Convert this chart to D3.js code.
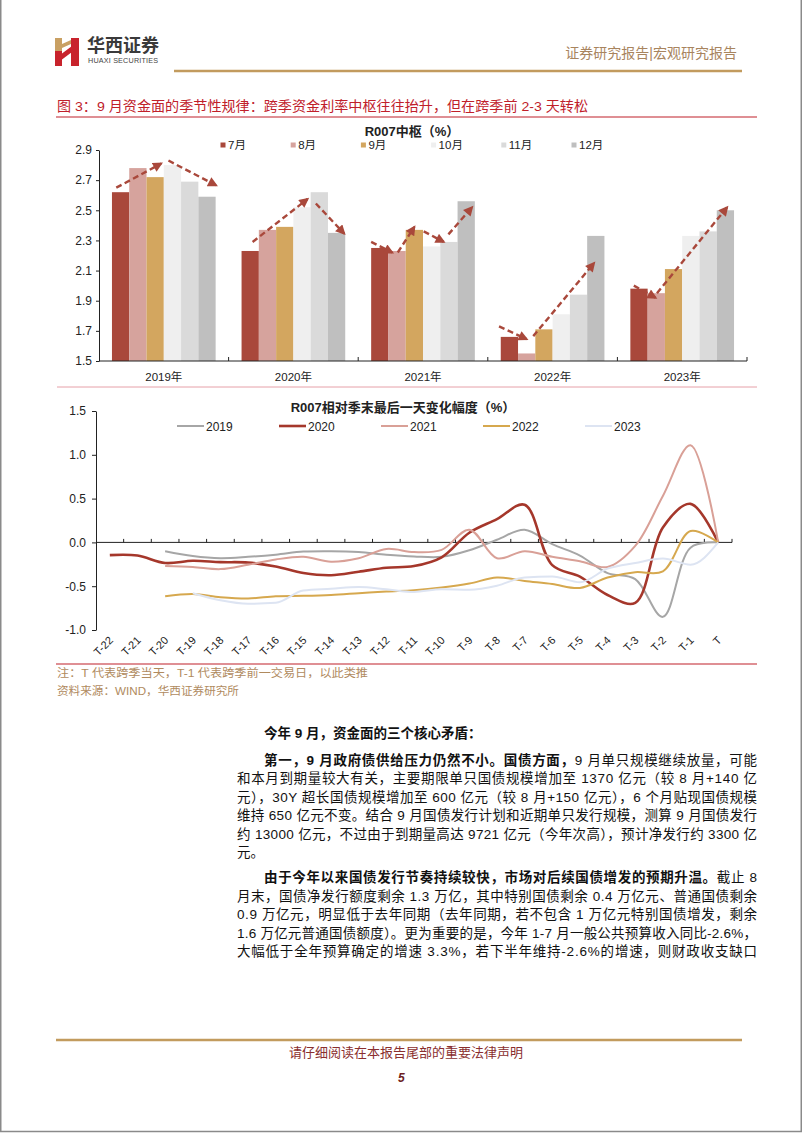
<!DOCTYPE html>
<html><head><meta charset="utf-8">
<script src="https://cdn.jsdelivr.net/npm/d3@7/dist/d3.min.js"></script>
<style>
html,body{margin:0;padding:0;background:#fff;}
svg{display:block;}
text{font-family:"Liberation Sans","Noto Sans CJK SC",sans-serif;}
</style></head>
<body>
<script>
// ---------------- DATA ----------------
const years = ["2019年","2020年","2021年","2022年","2023年"];
const months = ["7月","8月","9月","10月","11月","12月"];
const jul = [2.62, 2.23, 2.25, 1.66, 1.98];
const aug = [2.78, 2.37, 2.23, 1.55, 1.95];
const sep = [2.72, 2.39, 2.37, 1.71, 2.11];
const oct = [2.80, 2.52, 2.26, 1.81, 2.33];
const nov = [2.69, 2.62, 2.29, 1.94, 2.36];
const dec = [2.59, 2.35, 2.56, 2.33, 2.50];
const topTicks = [1.5, 1.7, 1.9, 2.1, 2.3, 2.5, 2.7, 2.9];
// annotation arrows in data units: [year index, from month-position, from value, to month-position, to value]
const arrows = [
  [0, -0.25, 2.65, 2.35, 2.81], [0, 2.77, 2.83, 5.53, 2.665],
  [1, 0.14, 2.29, 3.32, 2.575], [1, 3.8, 2.545, 5.44, 2.345],
  [2, -0.5, 2.29, 0.72, 2.22], [2, 1.04, 2.22, 2.0, 2.39],
  [2, 2.54, 2.36, 3.7, 2.29], [2, 3.97, 2.34, 5.34, 2.52],
  [3, -0.6, 1.73, 1.0, 1.645], [3, 1.38, 1.665, 4.9, 2.15],
  [4, -0.3, 2.0, 0.96, 1.92], [4, 1.04, 1.95, 5.1, 2.52]
];

const tLabels = ["T-22","T-21","T-20","T-19","T-18","T-17","T-16","T-15","T-14","T-13","T-12","T-11","T-10","T-9","T-8","T-7","T-6","T-5","T-4","T-3","T-2","T-1","T"];
const seriesNames = ["2019","2020","2021","2022","2023"];
const s2019 = [null,null,-0.10,-0.155,-0.18,-0.165,-0.14,-0.105,-0.10,-0.11,-0.14,-0.16,-0.165,-0.09,0.03,0.145,-0.02,-0.15,-0.35,-0.42,-0.85,-0.06,0];
const s2020 = [-0.145,-0.15,-0.235,-0.21,-0.225,-0.23,-0.275,-0.35,-0.375,-0.335,-0.29,-0.27,-0.17,0.11,0.265,0.43,-0.26,-0.39,-0.60,-0.69,0.17,0.44,0];
const s2021 = [null,null,-0.27,-0.28,-0.305,-0.255,-0.195,-0.165,-0.22,-0.18,-0.075,-0.11,-0.085,0.145,-0.18,-0.10,-0.165,-0.215,-0.28,-0.04,0.53,1.11,0];
const s2022 = [null,null,-0.615,-0.59,-0.625,-0.64,-0.615,-0.61,-0.60,-0.58,-0.56,-0.545,-0.515,-0.47,-0.40,-0.44,-0.475,-0.52,-0.40,-0.34,-0.33,0.13,0];
const s2023 = [null,null,null,-0.58,-0.66,-0.70,-0.69,-0.55,-0.53,-0.51,-0.535,-0.565,-0.535,-0.54,-0.495,-0.40,-0.39,-0.455,-0.30,-0.235,-0.185,-0.255,0];
const botTicks = [-1.0, -0.5, 0.0, 0.5, 1.0, 1.5];

// ---------------- SETUP ----------------
const W = 802, H = 1133;
const svg = d3.select("body").append("svg").attr("width", W).attr("height", H);
svg.append("rect").attr("x",0).attr("y",0).attr("width",W).attr("height",H).attr("fill","#fff");
svg.append("rect").attr("x",0.75).attr("y",-2).attr("width",W-1.5).attr("height",H+0.5)
  .attr("fill","none").attr("stroke","#8a8a8a").attr("stroke-width",1.5);

// ---------------- HEADER ----------------
const logo = svg.append("g");
logo.append("rect").attr("x",55).attr("y",38).attr("width",7).attr("height",13).attr("fill","#C9A063");
logo.append("rect").attr("x",55).attr("y",51).attr("width",7).attr("height",15).attr("fill","#C8232C");
logo.append("path").attr("d","M71,38 L79,38 L79,66 L71,66 Z").attr("fill","#C8232C");
logo.append("path").attr("d","M60,55 L72,46 L72,52 L60,61 Z").attr("fill","#C8232C");
logo.append("path").attr("d","M62,44 L71,40 L71,44 L62,48 Z").attr("fill","#C9A063");
svg.append("text").attr("x",87).attr("y",52).attr("font-size",18).attr("font-weight",700)
  .attr("fill","#3a3a3a").attr("font-family","Noto Sans CJK SC").text("华西证券");
svg.append("text").attr("x",88).attr("y",63).attr("font-size",7.2).attr("fill","#444")
  .attr("textLength",70).text("HUAXI SECURITIES");
svg.append("text").attr("x",737).attr("y",58).attr("text-anchor","end").attr("font-size",14)
  .attr("fill","#A8845E").attr("font-family","Noto Sans CJK SC").text("证券研究报告|宏观研究报告");
svg.append("line").attr("x1",174).attr("x2",742).attr("y1",71).attr("y2",71)
  .attr("stroke","#C29B5E").attr("stroke-width",2.5);

svg.append("text").attr("x",57).attr("y",111).attr("font-size",13.5).attr("fill","#C0202A")
  .attr("textLength",531).attr("lengthAdjust","spacingAndGlyphs")
  .attr("font-family","Noto Sans CJK SC").text("图 3：9 月资金面的季节性规律：跨季资金利率中枢往往抬升，但在跨季前 2-3 天转松");
svg.append("line").attr("x1",56).attr("x2",757).attr("y1",117).attr("y2",117)
  .attr("stroke","#C0202A").attr("stroke-width",1.2);

// ---------------- TOP CHART ----------------
const yTop = d3.scaleLinear().domain([1.5, 2.9]).range([361, 150]);
const x0 = d3.scaleBand().domain(years).range([99, 747]).paddingInner(0.2).paddingOuter(0.1);
const x1 = d3.scaleBand().domain(months).range([0, x0.bandwidth()]);
const monthColors = ["#A9483B","#D6A39D","#D3A65F","#EFEFEF","#DADADA","#BFBFBF"];
const monthSeries = [jul, aug, sep, oct, nov, dec];

const gTop = svg.append("g");
monthSeries.forEach((vals, mi) => {
  gTop.selectAll(null).data(vals).enter().append("rect")
    .attr("x", (d,i) => x0(years[i]) + x1(months[mi]))
    .attr("y", d => yTop(d))
    .attr("width", x1.bandwidth())
    .attr("height", d => yTop(1.5) - yTop(d))
    .attr("fill", monthColors[mi]);
});
const yAxTop = svg.append("g").attr("transform","translate(99,0)")
  .call(d3.axisLeft(yTop).tickValues(topTicks).tickFormat(d => d.toFixed(1)).tickSize(3).tickPadding(4).tickSizeOuter(0));
yAxTop.selectAll("text").attr("font-size",12).attr("fill","#222");
yAxTop.selectAll("line,path").attr("stroke","#222");
const xAxTop = svg.append("g").attr("transform","translate(0,361)")
  .call(d3.axisBottom(x0).tickSize(0).tickPadding(12));
xAxTop.select("path").attr("d", `M${x0.range()[0]},0H${x0.range()[1]}`).attr("stroke","#222");
xAxTop.selectAll("text").attr("font-size",11.5).attr("fill","#222");
const bTop = years.map(y => x0(y) - x0.step()*x0.paddingOuter()).concat([x0.range()[1]]);
svg.append("g").selectAll("line").data(bTop.slice(1)).enter().append("line")
  .attr("x1", d => d).attr("x2", d => d).attr("y1", 357).attr("y2", 361).attr("stroke","#222");

const defs = svg.append("defs");
defs.append("marker").attr("id","ah").attr("viewBox","0 0 10 10").attr("refX",8).attr("refY",5)
  .attr("markerWidth",11).attr("markerHeight",10).attr("markerUnits","userSpaceOnUse").attr("orient","auto")
  .append("path").attr("d","M0,0 L10,5 L0,10 Z").attr("fill","#A9483B");
const mx = (yi, p) => x0(years[yi]) + x1.step()*p + x1.bandwidth()/2;
svg.append("g").selectAll("line").data(arrows).enter().append("line")
  .attr("x1", d => mx(d[0], d[1])).attr("y1", d => yTop(d[2]))
  .attr("x2", d => mx(d[0], d[3])).attr("y2", d => yTop(d[4]))
  .attr("stroke","#A9483B").attr("stroke-width",2.4).attr("stroke-dasharray","6,3.5")
  .attr("marker-end","url(#ah)");

svg.append("text").attr("x",412).attr("y",136).attr("text-anchor","middle").attr("font-size",13)
  .attr("font-weight",700).attr("fill","#222").text("R007中枢（%）");
const legTopX = d3.scalePoint().domain(months).range([223, 574]);
const lt = svg.append("g").selectAll("g").data(months).enter().append("g")
  .attr("transform", d => `translate(${legTopX(d)},145)`);
lt.append("rect").attr("x",-2.5).attr("y",-2.5).attr("width",5).attr("height",5)
  .attr("fill",(d,i) => monthColors[i]);
lt.append("text").attr("x",5).attr("y",4).attr("font-size",11.5).attr("fill","#222").text(d => d);

svg.append("line").attr("x1",57).attr("x2",757).attr("y1",387).attr("y2",387)
  .attr("stroke","#E6A0A8").attr("stroke-width",1);

// ---------------- BOTTOM CHART ----------------
const yBot = d3.scaleLinear().domain([-1.0, 1.5]).range([630, 411]);
const xb = d3.scaleBand().domain(tLabels).range([96, 732]);
const yAxBot = svg.append("g").attr("transform","translate(96,0)")
  .call(d3.axisLeft(yBot).tickValues(botTicks).tickFormat(d => d.toFixed(1)).tickSize(4).tickPadding(6).tickSizeOuter(0));
yAxBot.selectAll("text").attr("font-size",12).attr("fill","#222");
yAxBot.selectAll("line,path").attr("stroke","#222");
svg.append("line").attr("x1",96).attr("x2",xb.range()[1]).attr("y1",yBot(0)).attr("y2",yBot(0))
  .attr("stroke","#222");
svg.append("g").selectAll("line").data(tLabels).enter().append("line")
  .attr("x1", d => xb(d) + xb.bandwidth()).attr("x2", d => xb(d) + xb.bandwidth())
  .attr("y1", yBot(0) - 3.5).attr("y2", yBot(0)).attr("stroke","#222");
svg.append("g").selectAll("text").data(tLabels).enter().append("text")
  .attr("transform", d => `translate(${xb(d) + xb.bandwidth()/2 + 4},${641}) rotate(-45)`)
  .attr("text-anchor","end").attr("font-size",11).attr("fill","#222").text(d => d);

const lineSeries = [s2019, s2020, s2021, s2022, s2023];
const lineColors = ["#A6A6A6","#A5372B","#D9A097","#D6A84E","#DDE4F2"];
const lineWidths = [2, 2.6, 2, 2, 2];
const curves = [d3.curveCatmullRom.alpha(0.5), d3.curveCatmullRom.alpha(0.5), d3.curveCatmullRom.alpha(0.5), d3.curveCatmullRom.alpha(0.5), d3.curveMonotoneX];
lineSeries.forEach((vals, si) => {
  const pts = vals.map((v,i) => [tLabels[i], v]).filter(d => d[1] !== null);
  const ln = d3.line().x(d => xb(d[0]) + xb.bandwidth()/2).y(d => yBot(d[1])).curve(curves[si]);
  svg.append("path").datum(pts).attr("d", ln).attr("fill","none")
    .attr("stroke", lineColors[si]).attr("stroke-width", lineWidths[si]).attr("stroke-linejoin","round");
});

svg.append("text").attr("x",403).attr("y",412).attr("text-anchor","middle").attr("font-size",13)
  .attr("font-weight",700).attr("fill","#222").text("R007相对季末最后一天变化幅度（%）");
const legBotX = d3.scalePoint().domain(seriesNames).range([177, 585]);
const lb = svg.append("g").selectAll("g").data(seriesNames).enter().append("g")
  .attr("transform", d => `translate(${legBotX(d)},426)`);
lb.append("line").attr("x1",0).attr("x2",27).attr("y1",0).attr("y2",0)
  .attr("stroke",(d,i) => lineColors[i]).attr("stroke-width",(d,i) => lineWidths[i]);
lb.append("text").attr("x",29).attr("y",4.5).attr("font-size",12).attr("fill","#222").text(d => d);

svg.append("line").attr("x1",56).attr("x2",757).attr("y1",664).attr("y2",664)
  .attr("stroke","#C0202A").attr("stroke-width",1.2);
svg.append("text").attr("x",57).attr("y",677).attr("font-size",11.5).attr("fill","#B08A5E")
  .attr("textLength",311).attr("lengthAdjust","spacingAndGlyphs")
  .attr("font-family","Noto Sans CJK SC").text("注：T 代表跨季当天，T-1 代表跨季前一交易日，以此类推");
svg.append("text").attr("x",57).attr("y",695).attr("font-size",11.5).attr("fill","#B08A5E")
  .attr("textLength",182).attr("lengthAdjust","spacingAndGlyphs")
  .attr("font-family","Noto Sans CJK SC").text("资料来源：WIND，华西证券研究所");

// ---------------- BODY TEXT ----------------
const bodyLines = [
  {y:738, x:264, parts:[["今年 9 月，资金面的三个核心矛盾：",true]], just:false},
  {y:765, x:264, parts:[["第一，9 月政府债供给压力仍然不小。国债方面，",true],["9 月单只规模继续放量，可能",false]], just:true},
  {y:783.4, x:237, parts:[["和本月到期量较大有关，主要期限单只国债规模增加至 1370 亿元（较 8 月+140 亿",false]], just:true},
  {y:801.8, x:237, parts:[["元），30Y 超长国债规模增加至 600 亿元（较 8 月+150 亿元），6 个月贴现国债规模",false]], just:true},
  {y:820.2, x:237, parts:[["维持 650 亿元不变。结合 9 月国债发行计划和近期单只发行规模，测算 9 月国债发行",false]], just:true},
  {y:838.6, x:237, parts:[["约 13000 亿元，不过由于到期量高达 9721 亿元（今年次高），预计净发行约 3300 亿",false]], just:true},
  {y:857, x:237, parts:[["元。",false]], just:false},
  {y:882, x:264, parts:[["由于今年以来国债发行节奏持续较快，市场对后续国债增发的预期升温。",true],["截止 8",false]], just:true},
  {y:900.5, x:237, parts:[["月末，国债净发行额度剩余 1.3 万亿，其中特别国债剩余 0.4 万亿元、普通国债剩余",false]], just:true},
  {y:919, x:237, parts:[["0.9 万亿元，明显低于去年同期（去年同期，若不包含 1 万亿元特别国债增发，剩余",false]], just:true},
  {y:937.5, x:237, parts:[["1.6 万亿元普通国债额度）。更为重要的是，今年 1-7 月一般公共预算收入同比-2.6%，",false]], just:true},
  {y:956, x:237, parts:[["大幅低于全年预算确定的增速 3.3%，若下半年维持-2.6%的增速，则财政收支缺口",false]], just:true}
];
bodyLines.forEach(l => {
  const t = svg.append("text").attr("x", l.x).attr("y", l.y).attr("font-size",13.5).attr("fill","#111");
  if (l.just) t.attr("textLength", 757 - l.x).attr("lengthAdjust","spacing");
  l.parts.forEach(p => t.append("tspan").attr("font-weight", p[1] ? 700 : 400).text(p[0]));
});

// ---------------- FOOTER ----------------
svg.append("line").attr("x1",56).attr("x2",742).attr("y1",1040).attr("y2",1040)
  .attr("stroke","#C29B5E").attr("stroke-width",2.5);
svg.append("text").attr("x",289).attr("y",1057).attr("font-size",13).attr("fill","#8A2E2E")
  .attr("font-family","Noto Sans CJK SC").text("请仔细阅读在本报告尾部的重要法律声明");
svg.append("text").attr("x",398).attr("y",1082).attr("font-size",12).attr("font-weight",700)
  .attr("font-style","italic").attr("fill","#6E1F1F").text("5");
</script>
</body></html>
